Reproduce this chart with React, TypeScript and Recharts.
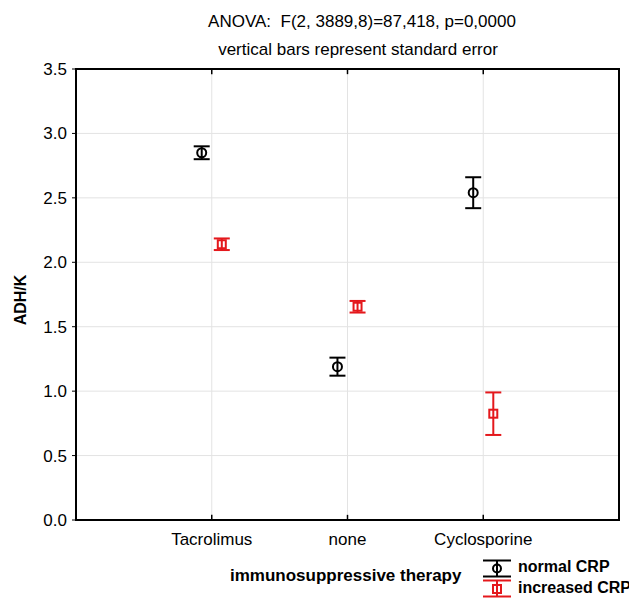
import {
  ScatterChart,
  Scatter,
  XAxis,
  YAxis,
  CartesianGrid,
  ErrorBar,
  ReferenceArea,
  ReferenceLine,
} from 'recharts';

const categories = ['Tacrolimus', 'none', 'Cyclosporine'];
const normalMean = [2.85, 1.19, 2.54];
const normalSe = [0.05, 0.07, 0.12];
const increasedMean = [2.14, 1.655, 0.825];
const increasedSe = [0.045, 0.045, 0.165];
const yTicks = [0, 0.5, 1, 1.5, 2, 2.5, 3, 3.5];
const xTicks = [1, 2, 3];

// horizontal shift of each group around its category (in axis units)
const SHIFT = 0.074;

const normalData = categories.map((c, i) => ({
  x: i + 1 - SHIFT,
  y: normalMean[i],
  se: normalSe[i],
}));
const increasedData = categories.map((c, i) => ({
  x: i + 1 + SHIFT,
  y: increasedMean[i],
  se: increasedSe[i],
}));

const FONT = '"Liberation Sans", Arial, sans-serif';
const RED = '#e4181c';

// eslint-disable-next-line @typescript-eslint/no-explicit-any
function CircleMark(props: any) {
  const { cx, cy } = props;
  return <circle cx={cx} cy={cy} r={4.5} fill="none" stroke="#000" strokeWidth={2} />;
}

// eslint-disable-next-line @typescript-eslint/no-explicit-any
function SquareMark(props: any) {
  const { cx, cy } = props;
  return (
    <rect x={cx - 4} y={cy - 4} width={8} height={8} fill="none" stroke={RED} strokeWidth={2} />
  );
}

function LegendIcon({ color, square }: { color: string; square?: boolean }) {
  return (
    <svg width={30} height={19} style={{ display: 'block' }}>
      <line x1={1} y1={1.5} x2={29} y2={1.5} stroke={color} strokeWidth={2} />
      <line x1={1} y1={17.5} x2={29} y2={17.5} stroke={color} strokeWidth={2} />
      <line x1={15} y1={1.5} x2={15} y2={17.5} stroke={color} strokeWidth={2} />
      {square ? (
        <rect x={11} y={6} width={8} height={8} fill="none" stroke={color} strokeWidth={2} />
      ) : (
        <circle cx={15} cy={9.5} r={4} fill="none" stroke={color} strokeWidth={2} />
      )}
    </svg>
  );
}

export default function App() {
  return (
    <div
      style={{
        position: 'relative',
        width: 637,
        height: 599,
        margin: '-8px 0 0 -8px',
        background: '#fff',
        fontFamily: FONT,
        color: '#000',
      }}
    >
      <ScatterChart
        width={637}
        height={599}
        margin={{ top: 69, right: 18, left: 16, bottom: 49 }}
      >
        <CartesianGrid stroke="#e3e3e3" strokeWidth={1} />
        <XAxis
          type="number"
          dataKey="x"
          domain={[0, 4]}
          ticks={xTicks}
          tickFormatter={(v: number) => categories[v - 1]}
          axisLine={false}
          tickLine={false}
          height={30}
          tickMargin={7}
          tick={{ fontSize: 17, fill: '#000', fontFamily: FONT }}
        />
        <YAxis
          type="number"
          dataKey="y"
          domain={[0, 3.5]}
          ticks={yTicks}
          tickFormatter={(v: number) => v.toFixed(1)}
          axisLine={false}
          tickSize={4}
          tickMargin={5}
          tickLine={{ stroke: '#000' }}
          width={60}
          tick={{ fontSize: 17, fill: '#000', fontFamily: FONT }}
        />
        {xTicks.map((t) => (
          <ReferenceLine
            key={'b' + t}
            segment={[
              { x: t, y: 0 },
              { x: t, y: 0.04 },
            ]}
            stroke="#000"
            strokeWidth={1.5}
          />
        ))}
        {xTicks.map((t) => (
          <ReferenceLine
            key={'t' + t}
            segment={[
              { x: t, y: 3.5 },
              { x: t, y: 3.46 },
            ]}
            stroke="#000"
            strokeWidth={1.5}
          />
        ))}
        <ReferenceArea x1={0} x2={4} y1={0} y2={3.5} fill="none" stroke="#000" strokeWidth={2} />
        <Scatter data={normalData} shape={CircleMark} isAnimationActive={false}>
          <ErrorBar dataKey="se" direction="y" width={8} stroke="#000" strokeWidth={2} isAnimationActive={false} />
        </Scatter>
        <Scatter data={increasedData} shape={SquareMark} isAnimationActive={false}>
          <ErrorBar dataKey="se" direction="y" width={8} stroke={RED} strokeWidth={2} isAnimationActive={false} />
        </Scatter>
      </ScatterChart>

      <div
        style={{
          position: 'absolute',
          left: 0,
          width: 724,
          top: 13,
          lineHeight: 1,
          textAlign: 'center',
          fontSize: 17,
          whiteSpace: 'pre',
        }}
      >
        {'ANOVA:  F(2, 3889,8)=87,418, p=0,0000'}
      </div>
      <div
        style={{
          position: 'absolute',
          left: 0,
          width: 716,
          top: 41,
          lineHeight: 1,
          textAlign: 'center',
          fontSize: 17,
        }}
      >
        vertical bars represent standard error
      </div>
      <div
        style={{
          position: 'absolute',
          left: 21,
          top: 300,
          lineHeight: 1,
          transform: 'translate(-50%, -50%) rotate(-90deg)',
          fontSize: 16,
          fontWeight: 'bold',
        }}
      >
        ADH/K
      </div>
      <div
        style={{
          position: 'absolute',
          left: 230,
          top: 567,
          lineHeight: 1,
          fontSize: 17,
          fontWeight: 'bold',
        }}
      >
        immunosuppressive therapy
      </div>
      <div style={{ position: 'absolute', left: 482, top: 559 }}>
        <LegendIcon color="#000" />
      </div>
      <div style={{ position: 'absolute', left: 482, top: 579 }}>
        <LegendIcon color={RED} square />
      </div>
      <div
        style={{ position: 'absolute', left: 518, top: 559, lineHeight: 1, fontSize: 16, fontWeight: 'bold' }}
      >
        normal CRP
      </div>
      <div
        style={{ position: 'absolute', left: 518, top: 580, lineHeight: 1, fontSize: 16, fontWeight: 'bold' }}
      >
        increased CRP
      </div>
    </div>
  );
}
